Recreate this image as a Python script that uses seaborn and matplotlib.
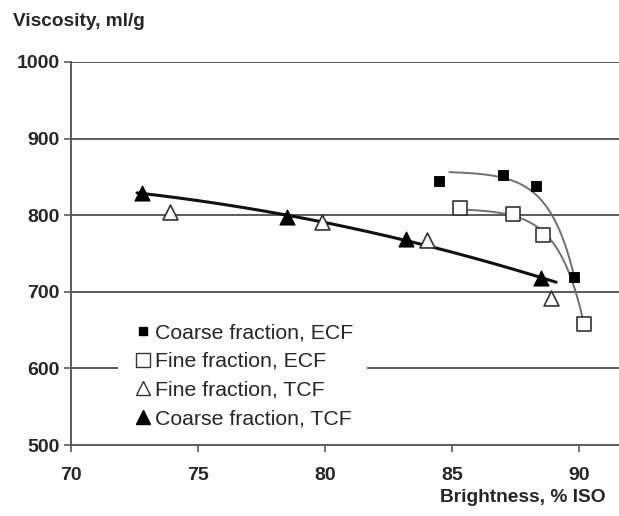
import numpy as np
import pandas as pd
import matplotlib
matplotlib.use("Agg")
import matplotlib.pyplot as plt
import seaborn as sns
from matplotlib.lines import Line2D

# ---- data ----
coarse_ecf_x = [84.5, 87.0, 88.3, 89.8]
coarse_ecf_y = [845, 852, 838, 719]
fine_ecf_x = [85.3, 87.4, 88.6, 90.2]
fine_ecf_y = [809, 801, 774, 658]
fine_tcf_x = [73.9, 79.9, 84.0, 88.9]
fine_tcf_y = [804, 791, 768, 692]
coarse_tcf_x = [72.8, 78.5, 83.2, 88.5]
coarse_tcf_y = [829, 798, 769, 718]

labels = ["Coarse fraction, ECF", "Fine fraction, ECF",
          "Fine fraction, TCF", "Coarse fraction, TCF"]
x_ticks = [70, 75, 80, 85, 90]
y_ticks = [500, 600, 700, 800, 900, 1000]

# trend line ranges
ecf_coarse_range = (84.9, 89.8)
ecf_fine_range = (85.6, 90.2)
tcf_range = (72.6, 89.1)


def exp_fit(x, y, rng, k=1.0):
    x = np.asarray(x, float); y = np.asarray(y, float)
    A = np.column_stack([np.ones_like(x), -np.exp(k * (x - 90))])
    (a, b), *_ = np.linalg.lstsq(A, y, rcond=None)
    xs = np.linspace(rng[0], rng[1], 200)
    return xs, a - b * np.exp(k * (xs - 90))


def poly_fit(x, y, rng, deg=2):
    p = np.polyfit(x, y, deg)
    xs = np.linspace(rng[0], rng[1], 200)
    return xs, np.polyval(p, xs)


sns.set_style("white")
plt.rcParams['font.family'] = ['Liberation Sans', 'DejaVu Sans']

fig = plt.figure(figsize=(6.19, 5.16), dpi=100)
ax = fig.add_axes([71 / 619, 1 - 445 / 516, 1 - 71 / 619, (445 - 62) / 516])

xmax = 70 + (619 - 71) / 25.4
grid_c = "#5a5a5a"
gap = (70 + (118 - 71) / 25.4, 70 + (367 - 71) / 25.4)   # legend gap in the 600 gridline
for yv in y_ticks[1:]:
    if yv == 600:
        ax.hlines(yv, 70, gap[0], color=grid_c, lw=1.4, zorder=0)
        ax.hlines(yv, gap[1], xmax, color=grid_c, lw=1.4, zorder=0)
    else:
        ax.axhline(yv, color=grid_c, lw=1.4, zorder=0)

# trend lines
xs, ys = exp_fit(coarse_ecf_x, coarse_ecf_y, ecf_coarse_range)
sns.lineplot(x=xs, y=ys, ax=ax, color="#707070", lw=1.4, zorder=2, legend=False)
xs, ys = exp_fit(fine_ecf_x, fine_ecf_y, ecf_fine_range)
sns.lineplot(x=xs, y=ys, ax=ax, color="#707070", lw=1.4, zorder=2, legend=False)
xs, ys = poly_fit(coarse_tcf_x, coarse_tcf_y, tcf_range)
sns.lineplot(x=xs, y=ys, ax=ax, color="#111111", lw=2.2, zorder=2, legend=False)

# points
sns.scatterplot(x=coarse_ecf_x, y=coarse_ecf_y, ax=ax, marker="s", s=60,
                color="black", edgecolor="black", zorder=3)
sns.scatterplot(x=fine_ecf_x, y=fine_ecf_y, ax=ax, marker="s", s=105,
                facecolor="white", edgecolor="#333333", linewidth=1.2, zorder=3)
sns.scatterplot(x=fine_tcf_x, y=fine_tcf_y, ax=ax, marker="^", s=115,
                facecolor="white", edgecolor="#333333", linewidth=1.2, zorder=3)
sns.scatterplot(x=coarse_tcf_x, y=coarse_tcf_y, ax=ax, marker="^", s=115,
                color="black", edgecolor="black", zorder=3)

ax.set_xlim(70, xmax)
ax.set_ylim(500, 1000)
ax.set_xticks(x_ticks)
ax.set_yticks(y_ticks)
ax.set_xticklabels([str(v) for v in x_ticks], fontsize=14, fontweight="bold")
ax.set_yticklabels([str(v) for v in y_ticks], fontsize=14, fontweight="bold")
ax.tick_params(axis="both", direction="out", length=5, width=1.2, color=grid_c,
               pad=3, left=True, bottom=True)
ax.tick_params(axis="x", pad=11)
for s in ["top", "right"]:
    ax.spines[s].set_visible(False)
for s in ["left", "bottom"]:
    ax.spines[s].set_color(grid_c)
    ax.spines[s].set_linewidth(1.4)
ax.set_xlabel("")
ax.set_ylabel("")

fig.text(13 / 619, 1 - 22 / 516, "Viscosity, ml/g", fontsize=13.7,
         fontweight="bold", va="center", ha="left")
fig.text(606 / 619, 1 - 498 / 516, "Brightness, % ISO", fontsize=13.8,
         fontweight="bold", va="center", ha="right")

handles = [
    Line2D([], [], ls="none", marker="s", ms=6, mfc="black", mec="black"),
    Line2D([], [], ls="none", marker="s", ms=10, mfc="white", mec="#333333", mew=1.0),
    Line2D([], [], ls="none", marker="^", ms=10, mfc="white", mec="#333333", mew=1.0),
    Line2D([], [], ls="none", marker="^", ms=10, mfc="black", mec="black"),
]
leg = ax.legend(handles, labels, loc="upper left",
                bbox_to_anchor=(128 / 619, 1 - 317 / 516), bbox_transform=fig.transFigure,
                frameon=False, fontsize=15.3, handlelength=0.8, handletextpad=0.15,
                labelspacing=0.45, borderpad=0.3, borderaxespad=0)
leg.set_zorder(5)

fig.savefig("out.png", dpi=100)
